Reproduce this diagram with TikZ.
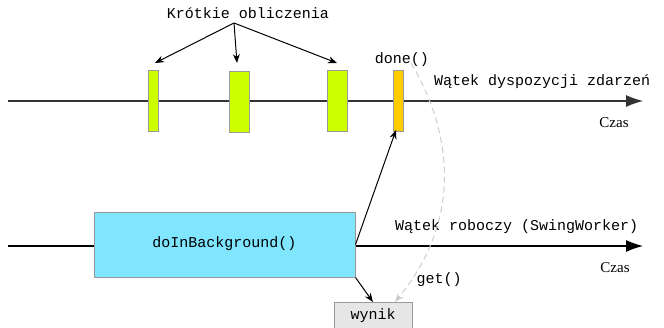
\documentclass[tikz,border=0pt]{standalone}
\usepackage{fontspec}
\setmainfont{Liberation Serif}
\setmonofont{Liberation Mono}
\usetikzlibrary{arrows.meta}
\definecolor{shortgreen}{HTML}{CCFF00}
\definecolor{doneorange}{HTML}{FFCC00}
\definecolor{workcyan}{HTML}{80E5FF}
\definecolor{resultgray}{HTML}{E6E6E6}
\definecolor{boxedge}{HTML}{999999}
\definecolor{dashgray}{HTML}{CCCCCC}
\begin{document}
\begin{tikzpicture}[x=1pt,y=-1pt,
  every node/.style={font=\fontsize{15}{17}\selectfont},
  mono/.style={font=\fontsize{15}{17}\selectfont\ttfamily, inner sep=0pt},
  serif/.style={font=\fontsize{15}{17}\selectfont, inner sep=0pt},
  timeline/.style={line width=1.1pt, -{Latex[length=17pt,width=12pt]}},
  slot/.style={draw=boxedge, line width=1pt, inner sep=0pt, minimum width=10pt, minimum height=61pt},
  wideslot/.style={slot, minimum width=20pt},
  pointer/.style={line width=1pt, -{Stealth[length=9pt,width=7pt]}},
  fetch/.style={draw=dashgray, line width=1pt, dash pattern=on 6pt off 4pt,
    -{Stealth[length=9pt,width=7pt]}}]
\useasboundingbox (0,0) rectangle (664,327);
\clip (0,0) rectangle (664,327);

% timelines
\coordinate (edtStart) at (8,101);
\coordinate (edtEnd) at (643,101);
\coordinate (wrkStart) at (8,246);
\coordinate (wrkEnd) at (643,246);
\draw[timeline, draw=black!80] (edtStart) -- (edtEnd);
\draw[timeline] (wrkStart) -- (wrkEnd);

% short computations on the event dispatch thread
\node[slot, fill=shortgreen] (c1) at (153.5,100.5) {};
\node[wideslot, fill=shortgreen] (c2) at (239,101.5) {};
\node[wideslot, fill=shortgreen] (c3) at (337.5,100.5) {};
\node[slot, fill=doneorange] (done) at (398,101) {};

% background work and its result
\node[draw=boxedge, line width=1pt, fill=workcyan, minimum width=261pt, minimum height=65pt, inner sep=0pt] (work) at (224.5,244.5) {};
\node[mono] (workText) at (224.5,244) {doInBackground()};
\node[draw=boxedge, line width=1pt, fill=resultgray, minimum width=78pt, minimum height=30pt, inner sep=0pt, anchor=north] (result) at (373,302) {};
\node[mono] (resultText) at (373,316) {wynik};

% labels
\node[mono] (shortLabel) at (248,13) {Krótkie obliczenia};
\node[mono] (doneLabel) at (402,60) {done()};
\node[mono, anchor=west] (edtLabel) at (434,82) {Wątek dyspozycji zdarzeń};
\node[serif] (edtTime) at (614,123) {Czas};
\node[mono, anchor=west] (wrkLabel) at (395,227) {Wątek roboczy (SwingWorker)};
\node[serif] (wrkTime) at (615,268) {Czas};
\node[mono] (getLabel) at (439,280) {get()};

% pointers
\coordinate (fanOut) at (234,23);
\draw[pointer] (fanOut) -- (155,63);
\draw[pointer] (fanOut) -- (237,63);
\draw[pointer] (fanOut) -- (337,63);
\draw[pointer] (work.east) -- ([xshift=-2pt,yshift=2pt]done.south);
\draw[pointer] (work.south east) -- (result.north);
\coordinate (fetchStart) at (411,63);
\draw[fetch] (fetchStart) .. controls (445,120) and (470,210) .. ([xshift=22pt]result.north);
\end{tikzpicture}
\end{document}
